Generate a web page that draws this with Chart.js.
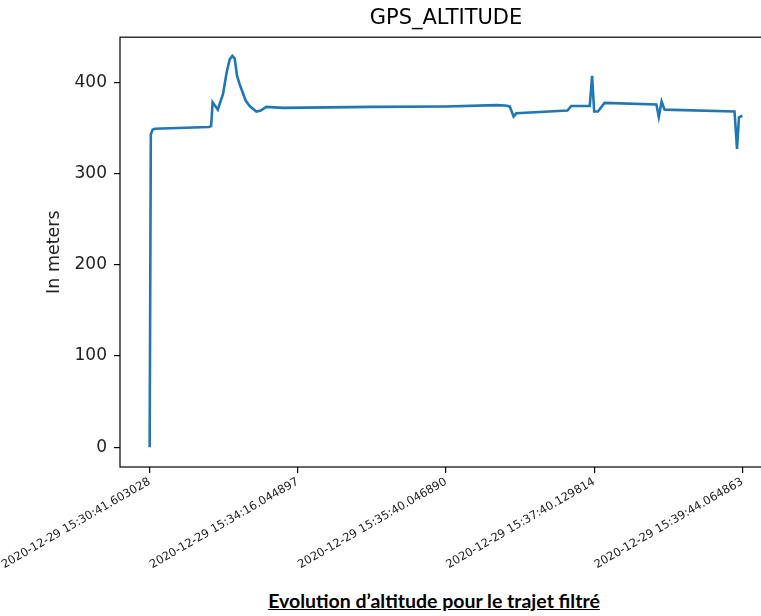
<!DOCTYPE html>
<html>
<head>
<meta charset="utf-8">
<script src="https://cdn.jsdelivr.net/npm/chart.js@4/dist/chart.umd.min.js"></script>
<style>
  html, body { margin: 0; padding: 0; background: #fff; overflow: hidden; width: 761px; height: 616px; }
  .wrap { position: absolute; left: 0; top: 0; width: 892px; height: 580px; }
  .caption {
    position: absolute; left: 0; width: 868px; top: 589px; text-align: center;
    font-family: Lato, "Liberation Sans", sans-serif; font-weight: bold; font-size: 19.5px;
    text-decoration: underline; color: #000;
  }
</style>
</head>
<body>
<div class="wrap"><canvas id="altChart" width="892" height="580"></canvas></div>
<div class="caption">Evolution d’altitude pour le trajet filtré</div>
<script>
// ========================================
// DATA
// ========================================
// position of each sample along the trip (row number in the filtered data)
const sampleIndex = [
  0, 0.8, 2, 3.5, 40, 41.5, 42.5, 46, 48, 49.5, 52, 54, 55.8, 57.4, 59, 60.7,
  64.8, 67.5, 72, 75, 78.7, 90, 150, 200, 234, 240, 243, 245.6, 247.4, 282,
  284.5, 297, 298.6, 300, 302.5, 307, 342, 343.6, 345.5, 347.5, 394.7, 396.4,
  397.7, 400,
];
// GPS altitude in meters
const altitude = [
  0, 343, 348, 349, 351, 352, 378, 370, 380, 387, 411, 425, 429, 426, 407, 398,
  380, 374, 368, 369, 373, 372, 373, 373.5, 375, 374.5, 373.5, 362.5, 366, 369,
  374, 374, 407, 368, 368, 377.4, 375.6, 362, 379, 370, 368, 327,
  361.6, 363.5,
];
// x ticks: sample rows and their timestamps
const tickIndex = [0, 100, 200, 300, 400];
const tickLabels = [
  "2020-12-29 15:30:41.603028",
  "2020-12-29 15:34:16.044897",
  "2020-12-29 15:35:40.046890",
  "2020-12-29 15:37:40.129814",
  "2020-12-29 15:39:44.064863",
];
const yTicks = [0, 100, 200, 300, 400];

// ========================================
// CHART
// ========================================
const FONT = "'DejaVu Sans', sans-serif";

// frame around the plot (matplotlib style spines)
const framePlugin = {
  id: "frame",
  afterDraw(chart) {
    const { ctx, chartArea: a } = chart;
    ctx.save();
    ctx.strokeStyle = "#000";
    ctx.lineWidth = 1.2;
    ctx.strokeRect(a.left, a.top, a.right - a.left, a.bottom - a.top);
    ctx.restore();
  },
};

new Chart(document.getElementById("altChart"), {
  type: "line",
  data: {
    datasets: [
      {
        label: "GPS_ALTITUDE",
        data: sampleIndex.map((x, i) => ({ x: x, y: altitude[i] })),
        borderColor: "#1f77b4",
        borderWidth: 2.6,
        pointRadius: 0,
        tension: 0,
        fill: false,
      },
    ],
  },
  options: {
    responsive: false,
    animation: false,
    // plot runs past the page edge, like the cropped reference
    layout: { padding: { left: 0, right: 120, top: 0, bottom: 0 } },
    plugins: {
      legend: { display: false },
      tooltip: { enabled: false },
      title: {
        display: true,
        fullSize: false, // centre over the plot area
        text: "GPS_ALTITUDE",
        color: "#000",
        font: { family: FONT, size: 21, weight: "normal" },
        padding: { top: 6, bottom: 6 },
      },
    },
    scales: {
      x: {
        type: "linear",
        min: -20,
        max: 420,
        border: { display: false },
        grid: { drawOnChartArea: false, drawTicks: true, tickLength: 6, color: "#000", lineWidth: 1.2 },
        ticks: {
          stepSize: 100,
          includeBounds: false,
          autoSkip: false,
          minRotation: 30,
          maxRotation: 30,
          padding: 2,
          color: "#222",
          font: { family: FONT, size: 11.5 },
          callback: (val) => {
            const k = tickIndex.indexOf(val);
            return k >= 0 ? tickLabels[k] : "";
          },
        },
        afterFit: (scale) => {
          scale.height = 113;
          scale.paddingLeft = 0;
          scale.paddingRight = 0;
        },
      },
      y: {
        min: -21.6,
        max: 449.4,
        border: { display: false },
        grid: { drawOnChartArea: false, drawTicks: true, tickLength: 6, color: "#000", lineWidth: 1.2 },
        afterBuildTicks: (scale) => {
          scale.ticks = yTicks.map((v) => ({ value: v }));
        },
        ticks: {
          padding: 7,
          color: "#222",
          font: { family: FONT, size: 17 },
        },
        title: {
          display: true,
          text: "In meters",
          color: "#222",
          font: { family: FONT, size: 17.5 },
          padding: { top: 44, bottom: 0 },
        },
        afterFit: (scale) => {
          scale.width = 120;
        },
      },
    },
  },
  plugins: [framePlugin],
});
</script>
</body>
</html>
